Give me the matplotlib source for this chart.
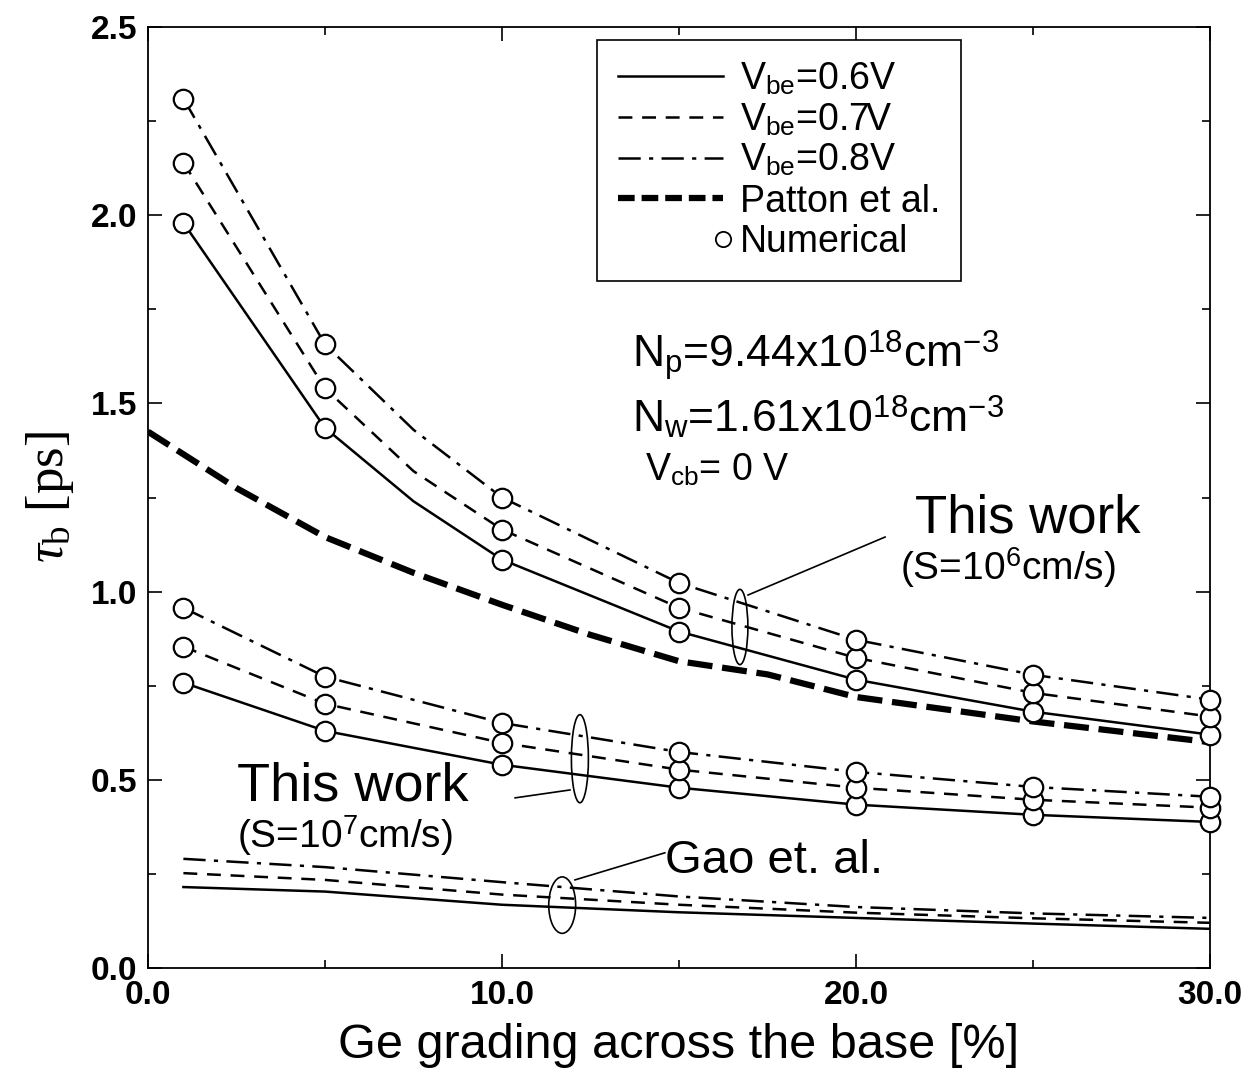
import matplotlib
matplotlib.use("Agg")
import matplotlib.pyplot as plt
from matplotlib.lines import Line2D
from matplotlib.patches import Ellipse
from matplotlib.legend_handler import HandlerLine2D
from matplotlib.ticker import MultipleLocator, FormatStrFormatter

plt.rcParams['font.family'] = ['Liberation Sans', 'DejaVu Sans']
plt.rcParams['mathtext.fontset'] = 'custom'
plt.rcParams['mathtext.rm'] = 'Liberation Serif'
plt.rcParams['mathtext.it'] = 'Liberation Serif:italic'
plt.rcParams['mathtext.sf'] = 'Liberation Sans'
plt.rcParams['lines.scale_dashes'] = False

# numerical points (circles)
x_num = [1, 5, 10, 15, 20, 25, 30]
num_s6_06 = [1.98, 1.435, 1.085, 0.894, 0.766, 0.681, 0.620]
num_s6_07 = [2.14, 1.54, 1.165, 0.957, 0.824, 0.731, 0.668]
num_s6_08 = [2.31, 1.657, 1.25, 1.023, 0.872, 0.779, 0.713]
num_s7_06 = [0.758, 0.630, 0.540, 0.479, 0.434, 0.407, 0.388]
num_s7_07 = [0.854, 0.702, 0.598, 0.527, 0.479, 0.447, 0.426]
num_s7_08 = [0.957, 0.774, 0.651, 0.574, 0.521, 0.481, 0.455]

# model curves, S=1e6
x_mod6 = [1, 5, 7.5, 10, 15, 20, 25, 30]
mod_s6_06 = [1.98, 1.435, 1.24, 1.085, 0.894, 0.766, 0.681, 0.620]
mod_s6_07 = [2.14, 1.54, 1.32, 1.165, 0.957, 0.824, 0.731, 0.668]
mod_s6_08 = [2.31, 1.657, 1.43, 1.25, 1.023, 0.872, 0.779, 0.713]

# Patton et al.
x_patton = [0, 2.5, 5, 7.5, 10, 12.5, 15, 17.5, 20, 25, 30]
patton = [1.425, 1.275, 1.145, 1.05, 0.965, 0.885, 0.815, 0.78, 0.72, 0.655, 0.60]

# Gao et al.
x_gao = [1, 5, 10, 15, 20, 25, 30]
gao_06 = [0.215, 0.203, 0.168, 0.148, 0.133, 0.118, 0.104]
gao_07 = [0.252, 0.234, 0.195, 0.168, 0.147, 0.132, 0.120]
gao_08 = [0.290, 0.268, 0.228, 0.190, 0.162, 0.145, 0.133]

legend_labels = [r'V$_{\mathsf{be}}$=0.6V', r'V$_{\mathsf{be}}$=0.7V',
                 r'V$_{\mathsf{be}}$=0.8V', 'Patton et al.', 'Numerical']


class RightMarkerHandler(HandlerLine2D):
    # put the legend circle at the right end of the handle, next to the text
    def create_artists(self, *args, **kwargs):
        arts = super().create_artists(*args, **kwargs)
        for a in arts:
            a.set_markevery([2])
        return arts


lw = 1.8
sty06 = dict(color='black', lw=lw, linestyle='-')
sty07 = dict(color='black', lw=lw, dashes=(10, 7))
sty08 = dict(color='black', lw=lw, dashes=(16, 6, 3, 6))

fig = plt.figure(figsize=(12.52, 10.69), dpi=100)
ax = fig.add_axes([0.1182, 0.0945, 0.8483, 0.8802])

ax.plot(x_mod6, mod_s6_06, **sty06)
ax.plot(x_mod6, mod_s6_07, **sty07)
ax.plot(x_mod6, mod_s6_08, **sty08)
ax.plot(x_num, num_s7_06, **sty06)
ax.plot(x_num, num_s7_07, **sty07)
ax.plot(x_num, num_s7_08, **sty08)
ax.plot(x_gao, gao_06, **sty06)
ax.plot(x_gao, gao_07, **sty07)
ax.plot(x_gao, gao_08, **sty08)
ax.plot(x_patton, patton, color='black', lw=4.5, dashes=(18, 7))

circ = dict(linestyle='none', marker='o', ms=14, mfc='white', mec='black',
            mew=1.6, zorder=5, clip_on=False)
for ys in [num_s6_06, num_s6_07, num_s6_08, num_s7_06, num_s7_07, num_s7_08]:
    ax.plot(x_num, ys, **circ)

ax.set_xlim(0, 30)
ax.set_ylim(0, 2.5)
ax.xaxis.set_major_locator(MultipleLocator(10))
ax.xaxis.set_minor_locator(MultipleLocator(5))
ax.yaxis.set_major_locator(MultipleLocator(0.5))
ax.yaxis.set_minor_locator(MultipleLocator(0.25))
ax.xaxis.set_major_formatter(FormatStrFormatter('%.1f'))
ax.yaxis.set_major_formatter(FormatStrFormatter('%.1f'))
ax.tick_params(which='both', direction='in', top=True, right=True, width=1.2)
ax.tick_params(which='major', length=10, labelsize=24)
ax.tick_params(which='minor', length=6)
ax.tick_params(axis='x', pad=9)
ax.tick_params(axis='y', pad=8)
for lab in ax.get_xticklabels() + ax.get_yticklabels():
    lab.set_fontweight('bold')
for s in ax.spines.values():
    s.set_linewidth(1.3)

ax.set_xlabel('Ge grading across the base [%]', fontsize=35, labelpad=8)
ax.set_ylabel(r'$\tau_{\mathrm{b}}$ [ps]', fontsize=38, labelpad=10,
              fontfamily='Liberation Serif')

circ_handle = Line2D([], [], linestyle='none', marker='o', ms=11, mfc='white',
                     mec='black', mew=1.3)
handles = [Line2D([], [], **sty06), Line2D([], [], **sty07), Line2D([], [], **sty08),
           Line2D([], [], color='black', lw=4.5, dashes=(12, 5)), circ_handle]
leg = ax.legend(handles, legend_labels, loc='upper left', bbox_to_anchor=(0.423, 0.986),
                borderaxespad=0, fontsize=27, handlelength=2.8, handletextpad=0.45,
                labelspacing=0.12, borderpad=0.55, fancybox=False, framealpha=1,
                edgecolor='black', handler_map={circ_handle: RightMarkerHandler()})
leg.get_frame().set_linewidth(1.2)

ax.text(13.67, 1.597, r'N$_{\mathsf{p}}$=9.44x10$^{\mathsf{18}}$cm$^{\mathsf{-3}}$', fontsize=32)
ax.text(13.67, 1.424, r'N$_{\mathsf{w}}$=1.61x10$^{\mathsf{18}}$cm$^{\mathsf{-3}}$', fontsize=32)
ax.text(14.04, 1.296, r'V$_{\mathsf{cb}}$= 0 V', fontsize=27)

ax.text(21.67, 1.158, 'This work', fontsize=38)
ax.text(21.24, 1.03, r'(S=10$^{\mathsf{6}}$cm/s)', fontsize=28)
ax.text(2.51, 0.446, 'This work', fontsize=39)
ax.text(2.51, 0.319, r'(S=10$^{\mathsf{7}}$cm/s)', fontsize=28)
ax.text(14.6, 0.252, 'Gao et. al.', fontsize=34)

ax.add_patch(Ellipse((16.72, 0.906), 0.45, 0.2, fill=False, lw=1.2))
ax.add_patch(Ellipse((12.2, 0.556), 0.48, 0.234, fill=False, lw=1.2))
ax.add_patch(Ellipse((11.7, 0.167), 0.76, 0.15, fill=False, lw=1.2))
ax.plot([16.95, 20.82], [0.991, 1.145], color='black', lw=1.2)
ax.plot([11.92, 10.37], [0.473, 0.452], color='black', lw=1.2)
ax.plot([12.06, 14.6], [0.234, 0.306], color='black', lw=1.2)

fig.savefig('out.png', dpi=100)
